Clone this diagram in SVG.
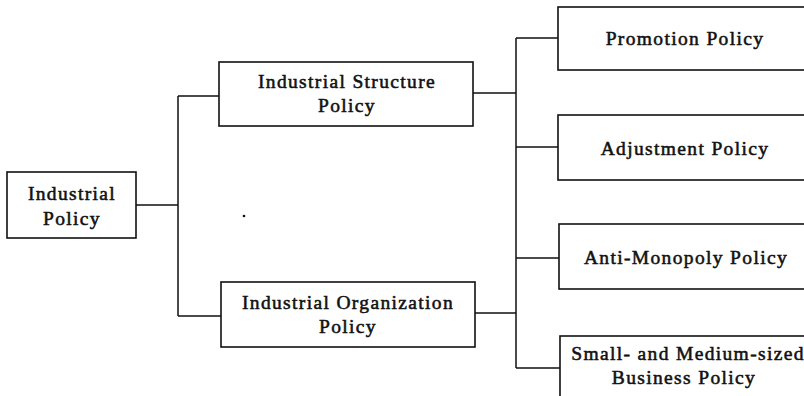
<svg xmlns="http://www.w3.org/2000/svg" width="804" height="396" viewBox="0 0 804 396">
<style>
.box{fill:#fff;stroke:#111;stroke-width:1.6}
.lbl{font-family:"Liberation Serif","Times New Roman",serif;font-size:19.5px;letter-spacing:1.35px;fill:#111;stroke:#111;stroke-width:0.55;text-anchor:middle}
.con{fill:none;stroke:#111;stroke-width:1.5}
</style>
<rect width="804" height="396" fill="#fff"/>
<g id="connectors">
<path class="con" d="M136,205 H178 M178,96 V316 M178,96 H219 M178,316 H221"/>
<path class="con" d="M473,93 H516 M475,313 H516 M516,38 V368 M516,38 H558 M516,147 H558 M516,258 H559 M516,368 H560"/>
</g>
<g id="industrial-policy">
<rect class="box" x="7" y="172" width="129" height="66"/>
<text class="lbl" x="72" y="200">Industrial</text>
<text class="lbl" x="72" y="225">Policy</text>
</g>
<g id="industrial-structure-policy">
<rect class="box" x="219" y="62" width="254" height="64"/>
<text class="lbl" x="347" y="88">Industrial Structure</text>
<text class="lbl" x="347" y="112">Policy</text>
</g>
<g id="industrial-organization-policy">
<rect class="box" x="221" y="282" width="254" height="65"/>
<text class="lbl" x="348" y="309">Industrial Organization</text>
<text class="lbl" x="348" y="333">Policy</text>
</g>
<g id="promotion-policy">
<rect class="box" x="558" y="7" width="260" height="63"/>
<text class="lbl" x="685" y="45">Promotion Policy</text>
</g>
<g id="adjustment-policy">
<rect class="box" x="558" y="115" width="260" height="65"/>
<text class="lbl" x="685" y="155">Adjustment Policy</text>
</g>
<g id="anti-monopoly-policy">
<rect class="box" x="559" y="224" width="260" height="65"/>
<text class="lbl" x="686" y="264">Anti-Monopoly Policy</text>
</g>
<g id="small-medium-business-policy">
<rect class="box" x="560" y="336" width="260" height="80"/>
<text class="lbl" x="688" y="360">Small- and Medium-sized</text>
<text class="lbl" x="684" y="384">Business Policy</text>
</g>
<circle cx="244" cy="216" r="1.3" fill="#111"/>
</svg>
